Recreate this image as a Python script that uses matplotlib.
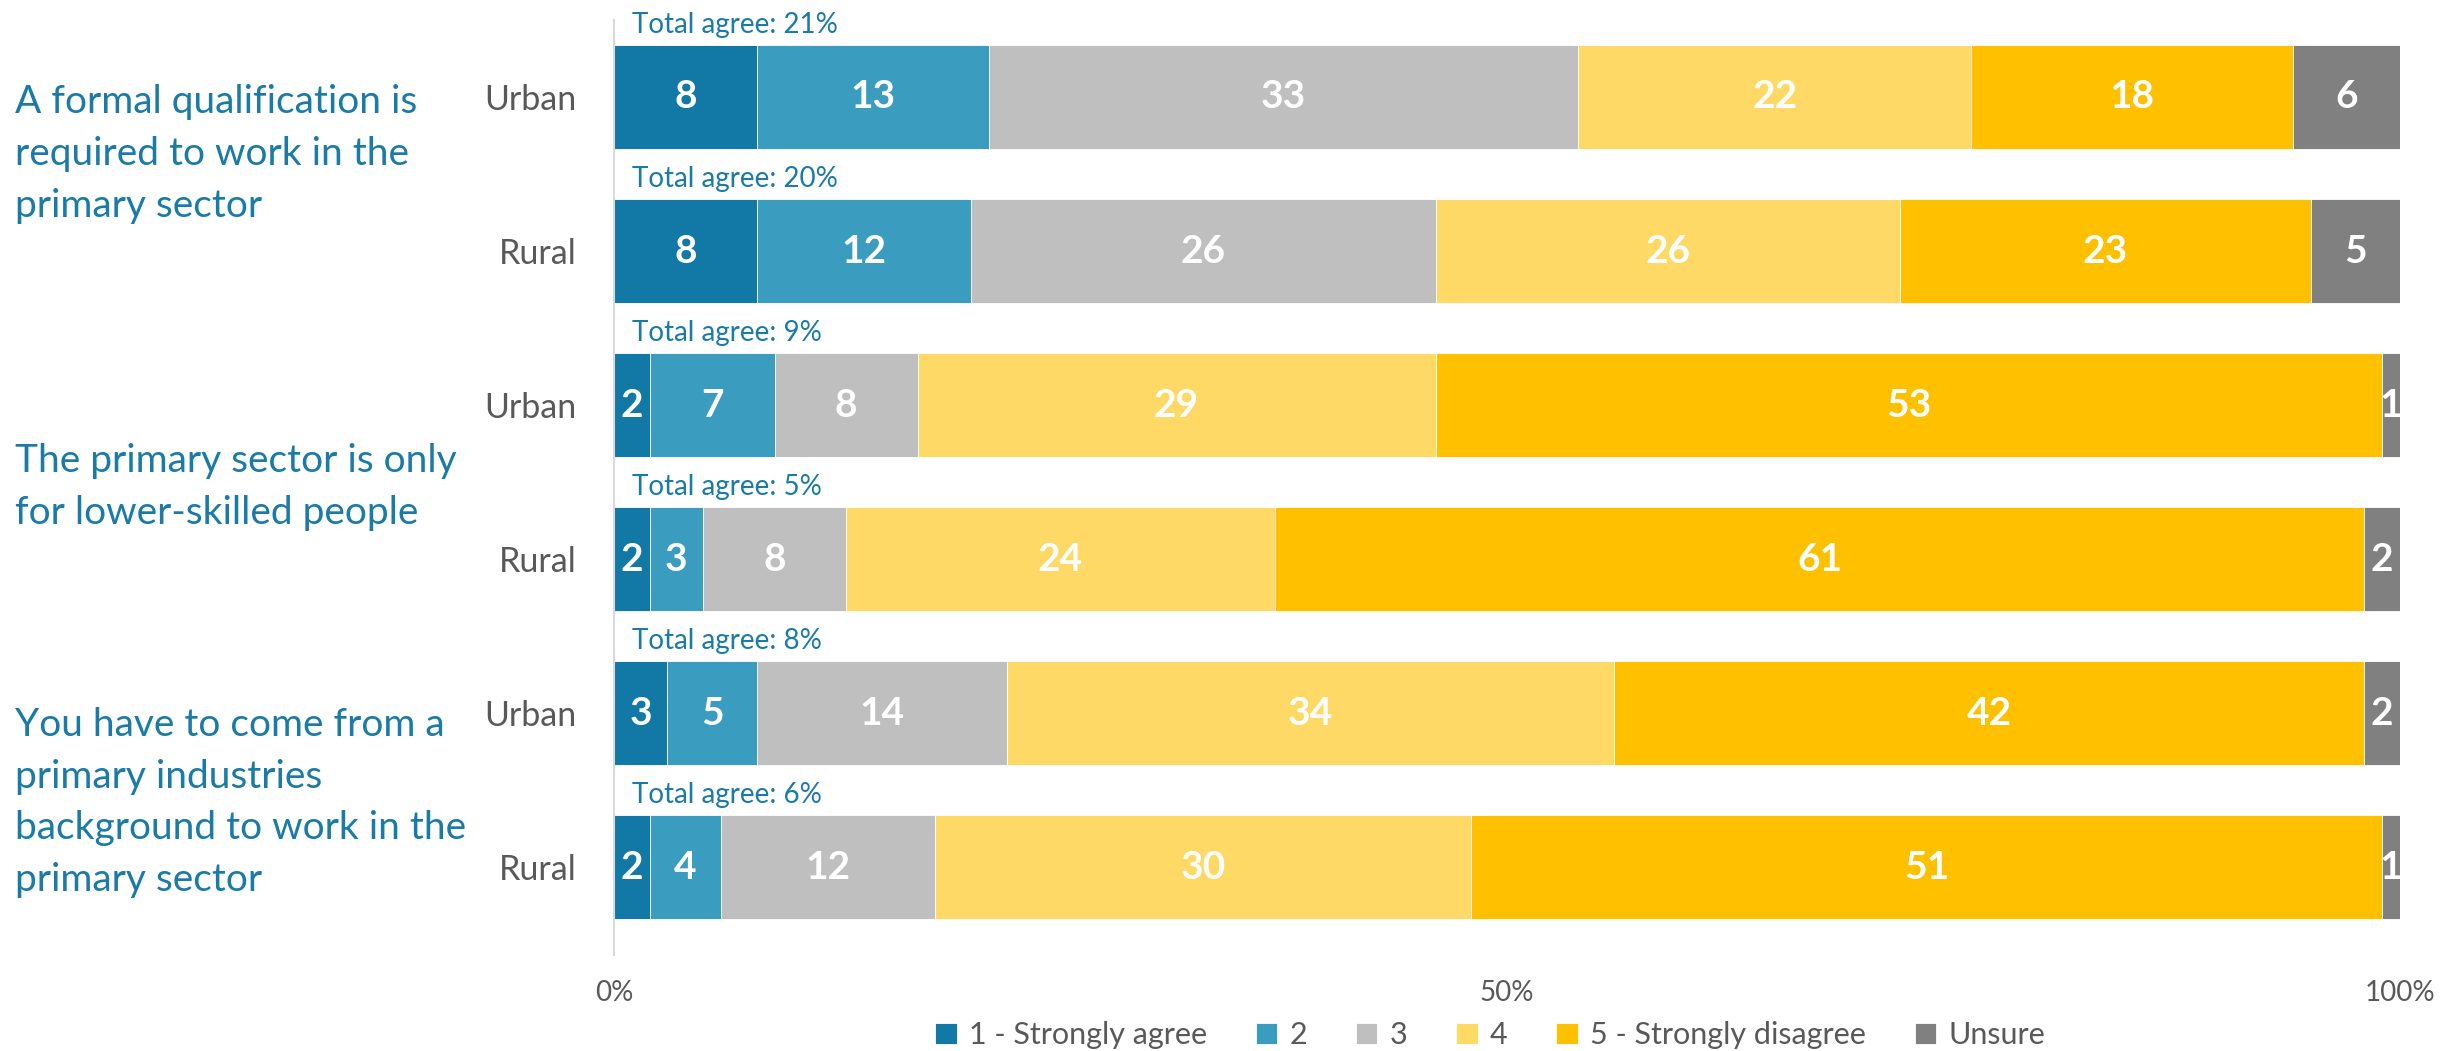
import numpy as np
import matplotlib
matplotlib.use("Agg")
import matplotlib.pyplot as plt
from matplotlib.transforms import blended_transform_factory

# --- data ---
statements = [
    "A formal qualification is\nrequired to work in the\nprimary sector",
    "The primary sector is only\nfor lower-skilled people",
    "You have to come from a\nprimary industries\nbackground to work in the\nprimary sector",
]
rows = ["Urban", "Rural", "Urban", "Rural", "Urban", "Rural"]
levels = ["1 - Strongly agree", "2", "3", "4", "5 - Strongly disagree", "Unsure"]
s1 = [8, 8, 2, 2, 3, 2]
s2 = [13, 12, 7, 3, 5, 4]
s3 = [33, 26, 8, 8, 14, 12]
s4 = [22, 26, 29, 24, 34, 30]
s5 = [18, 23, 53, 61, 42, 51]
unsure = [6, 5, 1, 2, 2, 1]
total_agree = [21, 20, 9, 5, 8, 6]
xticks = [0, 50, 100]

colors = ["#1279A6", "#3A9DC0", "#BFBFBF", "#FFD966", "#FFC000", "#808080"]
BLUE_TXT = "#1A7AA8"
GREY_TXT = "#595959"

plt.rcParams["font.family"] = ["Lato", "DejaVu Sans"]

fig = plt.figure(figsize=(24.4, 10.51), dpi=100)
ax = fig.add_axes([0.2516, 0.0913, 0.7320, 0.8897])

series = [s1, s2, s3, s4, s5, unsure]
y = np.arange(len(rows))
left = np.zeros(len(rows))
for name, vals, col in zip(levels, series, colors):
    vals = np.array(vals, dtype=float)
    ax.barh(y, vals, left=left, height=0.675, color=col, label=name,
            edgecolor="white", linewidth=0.6)
    for yi, l, v in zip(y, left, vals):
        ax.text(l + v / 2, yi, f"{int(v)}", ha="center", va="center",
                color="white", fontsize=28, fontweight="bold", clip_on=True)
    left += vals

for yi, t in zip(y, total_agree):
    ax.text(1.0, yi - 0.47, f"Total agree: {t}%", ha="left", va="center",
            color=BLUE_TXT, fontsize=20)

ax.set_xlim(0, 100)
ax.set_ylim(5.57, -0.5)
ax.set_yticks(y)
ax.set_yticklabels(rows, fontsize=24.5, color=GREY_TXT)
ax.set_xticks(xticks)
ax.set_xticklabels([f"{v}%" for v in xticks], fontsize=20, color=GREY_TXT)
ax.tick_params(axis="both", length=0)
ax.tick_params(axis="y", pad=27)
ax.tick_params(axis="x", pad=18)
for side in ["top", "right", "bottom"]:
    ax.spines[side].set_visible(False)
ax.spines["left"].set_color("#D9D9D9")
ax.spines["left"].set_linewidth(1.5)

# statement labels on the far left
trans = blended_transform_factory(fig.transFigure, ax.transData)
for txt, yc in zip(statements, [0.37, 2.53, 4.58]):
    ax.text(15 / 2440, yc, txt, transform=trans, ha="left", va="center",
            color=BLUE_TXT, fontsize=28, linespacing=1.54)

fig.legend(loc="center", bbox_to_anchor=(0.6107, 0.015), ncol=6, frameon=False,
           fontsize=22, handlelength=0.7, handleheight=0.7, handletextpad=0.4,
           columnspacing=1.6, labelcolor=GREY_TXT)

fig.savefig("out.png", dpi=100)
